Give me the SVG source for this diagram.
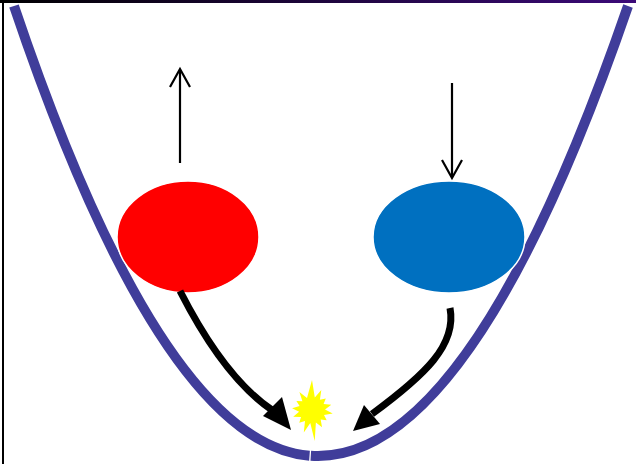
<svg xmlns="http://www.w3.org/2000/svg" width="636" height="464" viewBox="0 0 636 464">
<defs>
<linearGradient id="topbar" x1="0" y1="0" x2="1" y2="0">
<stop offset="0" stop-color="#000000"/>
<stop offset="1" stop-color="#3b0a78"/>
</linearGradient>
</defs>
<style>
.well{fill:none;stroke:#403d9a;stroke-width:10;stroke-linecap:butt}
.ball{stroke:#ffffff;stroke-width:1.5}
.thin{fill:none;stroke:#000;stroke-width:2.2}
.thick{fill:none;stroke:#000;stroke-width:7}
.head{fill:#000}
</style>
<rect width="636" height="464" fill="#ffffff"/>
<rect x="0" y="0" width="636" height="3" fill="url(#topbar)"/>
<line x1="3" y1="0" x2="3" y2="464" stroke="#000" stroke-width="2"/>
<g id="well">
<path class="well" d="M14,6 Q162,444.2 309.5,455.7"/>
<path class="well" d="M310.8,455.8 Q314,456 318,456 Q473,456 628,6"/>
</g>
<g id="red-ball"><ellipse class="ball" cx="188" cy="237" rx="71" ry="56" fill="#ff0000"/></g>
<g id="blue-ball"><ellipse class="ball" cx="449" cy="237" rx="76" ry="56" fill="#0070c0"/></g>
<g id="flash"><polygon fill="#ffff00" points="312,380 314.8,397.4 321.3,390.1 319.9,399.7 325.8,398.4 323.6,404 331.3,404.8 325,409.4 332.7,413.6 324,415 326.7,420.3 320.7,419.6 322,427.3 315.9,422.4 314.7,440.9 310.3,422.9 303.8,432.6 305,421 299.3,422.7 301,417 293.2,416.8 299.1,411.7 292.1,408.3 299.6,406.1 296.4,401 302.4,401.3 299.4,392 307,398"/></g>
<g id="connectors">
<line class="thin" x1="180" y1="163" x2="180" y2="70"/>
<polyline class="thin" points="170,87 180,69 190,87"/>
<line class="thin" x1="452" y1="83" x2="452" y2="177"/>
<polyline class="thin" points="442,160 452,178 462,160"/>
<path class="thick" d="M180,291 C205,340 235,385 272,410"/>
<polygon class="head" points="291,430 263,416 282,397"/>
<path class="thick" d="M450,308 C457,345 425,375 372,414"/>
<polygon class="head" points="353,431 364,405 380,424"/>
</g>
</svg>
